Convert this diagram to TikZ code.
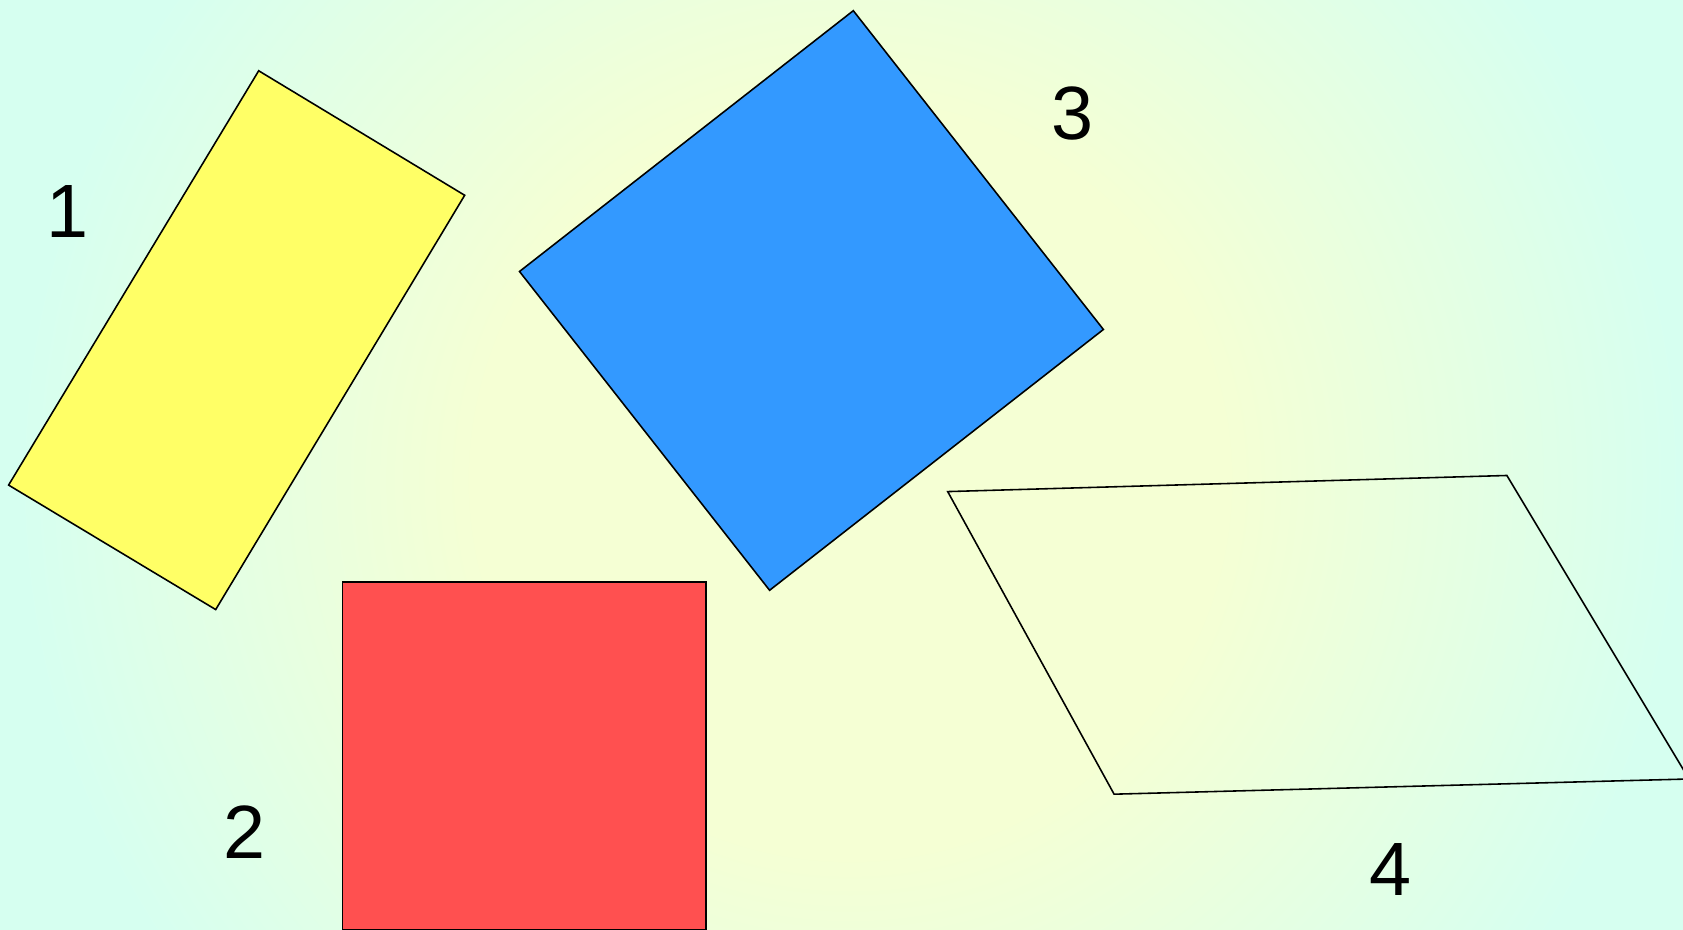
\documentclass[tikz,border=0pt]{standalone}
\usepackage{fontspec}
\setmainfont{Liberation Sans}
\definecolor{bginner}{RGB}{245,255,212}
\definecolor{bgouter}{RGB}{214,255,240}
\definecolor{shyellow}{RGB}{255,255,102}
\definecolor{shblue}{RGB}{51,153,255}
\definecolor{shred}{RGB}{255,80,80}
\usepackage{tikz}
\usetikzlibrary{positioning}
\pgfdeclareradialshading{bgglow}{\pgfpoint{0bp}{0bp}}{color(0bp)=(bginner); color(11bp)=(bginner); color(24.5bp)=(bgouter); color(50bp)=(bgouter)}
\tikzset{
  shapeline/.style={draw=black, line width=0.45pt, line join=miter},
  numlabel/.style={font=\fontsize{21.5}{26}\selectfont, inner sep=0pt}
}

\begin{document}
\begin{tikzpicture}[x=0.1mm, y=-0.1mm]
  \useasboundingbox (0,0) rectangle (1683,930);
  \clip (0,0) rectangle (1683,930);
  % background glow, square so that it stays round
  \shade[shading=bgglow] (0,-370) rectangle (1700,1330);
  % shapes
  \draw[shapeline, fill=shyellow] (258.7,70.8) -- (464.7,195.3) -- (215.7,609.6) -- (8.6,485.1) -- cycle;
  \draw[shapeline, fill=shblue] (853.3,10.7) -- (1103.4,329.5) -- (769.6,590.3) -- (519.5,271.5) -- cycle;
  \draw[shapeline, fill=shred] (342.6,582) rectangle (706,929.6);
  \draw[shapeline] (947.7,491.6) -- (1506.9,475.5) -- (1689,779) -- (1114.1,794.2) -- cycle;
  % labels
  \node[numlabel] (one) at (68,212) {1};
  \node[numlabel] (two) at (245,832) {2};
  \node[numlabel] (three) at (1073,114) {3};
  \node[numlabel] (four) at (1391,870) {4};
\end{tikzpicture}
\end{document}
